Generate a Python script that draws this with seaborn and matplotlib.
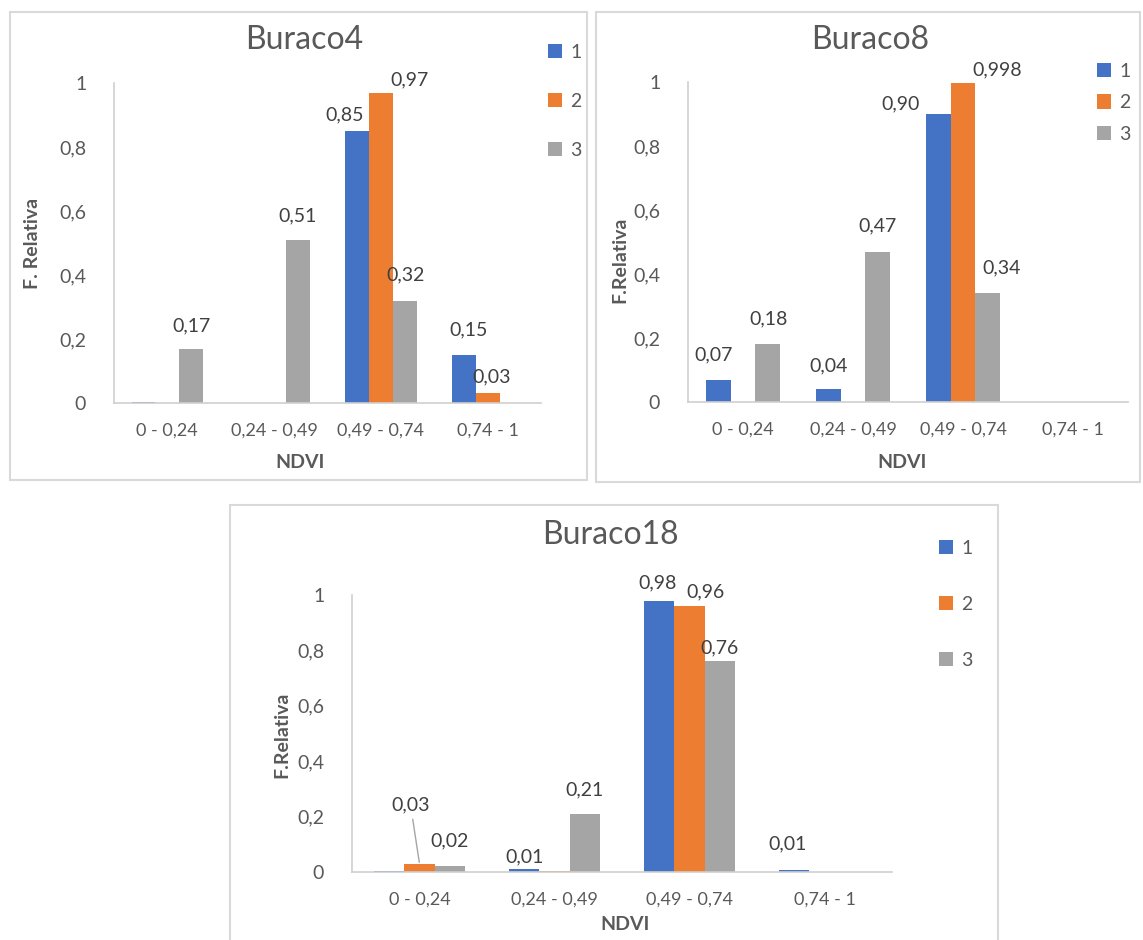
import pandas as pd
import seaborn as sns
import matplotlib.pyplot as plt
from matplotlib.patches import Rectangle

sns.set_theme(style="white")
plt.rcParams['font.family'] = ['Lato', 'DejaVu Sans']

categories = ["0 - 0,24", "0,24 - 0,49", "0,49 - 0,74", "0,74 - 1"]
series_names = ["1", "2", "3"]

buraco4_s1 = [0.003, 0.0, 0.85, 0.15]
buraco4_s2 = [0.0, 0.0, 0.97, 0.03]
buraco4_s3 = [0.17, 0.51, 0.32, 0.0]

buraco8_s1 = [0.07, 0.04, 0.90, 0.0]
buraco8_s2 = [0.0, 0.0, 0.998, 0.0]
buraco8_s3 = [0.18, 0.47, 0.34, 0.0]

buraco18_s1 = [0.003, 0.01, 0.98, 0.006]
buraco18_s2 = [0.03, 0.005, 0.96, 0.0]
buraco18_s3 = [0.02, 0.21, 0.76, 0.0]

# (series index, category index, text)
labels4 = [(2, 0, "0,17"), (2, 1, "0,51"), (0, 2, "0,85"), (1, 2, "0,97"),
           (2, 2, "0,32"), (0, 3, "0,15"), (1, 3, "0,03")]
labels8 = [(0, 0, "0,07"), (2, 0, "0,18"), (0, 1, "0,04"), (2, 1, "0,47"),
           (0, 2, "0,90"), (1, 2, "0,998"), (2, 2, "0,34")]
labels18 = [(1, 0, "0,03"), (2, 0, "0,02"), (0, 1, "0,01"), (2, 1, "0,21"),
            (0, 2, "0,98"), (1, 2, "0,96"), (2, 2, "0,76"), (0, 3, "0,01")]

# label offsets in pixels (dx, dy up) from bar top
offs4 = [(0, 23), (0, 24), (-12, 16), (29, 13), (1, 26), (5, 25), (4, 17)]
offs8 = [(-5, 25), (1, 26), (0, 23), (0, 26), (-38, 10), (34, 13), (14, 25)]
offs18 = [(-9, 59), (0, 26), (0, 12), (0, 24), (-2, 18), (16, 14), (0, 14), (-7, 26)]

palette = ["#4472C4", "#ED7D31", "#A5A5A5"]
GREY = "#595959"
W, H = 1143, 940


def make_df(s1, s2, s3):
    rows = []
    for name, vals in zip(series_names, [s1, s2, s3]):
        for c, v in zip(categories, vals):
            rows.append({"NDVI": c, "serie": name, "valor": v})
    return pd.DataFrame(rows)


def px_axes(fig, x0, y0, x1, y1):
    return fig.add_axes([x0 / W, 1 - y1 / H, (x1 - x0) / W, (y1 - y0) / H])


def draw_panel(fig, box, axbox, df, title, title_xy, ylabel, ylabel_xy,
               xlabel_xy, labels, offs, leg_xy, leg_spacing, leader=None):
    bx0, by0, bx1, by1 = box
    fig.patches.append(Rectangle((bx0 / W, 1 - by1 / H), (bx1 - bx0) / W, (by1 - by0) / H,
                                 transform=fig.transFigure, fill=False,
                                 edgecolor="#D9D9D9", lw=1.5, zorder=0))
    ax = px_axes(fig, *axbox)
    sns.barplot(data=df, x="NDVI", y="valor", hue="serie", palette=palette,
                width=0.67, saturation=1, ax=ax, linewidth=0)
    ax.set_ylim(0, 1)
    ax.set_yticks([0, 0.2, 0.4, 0.6, 0.8, 1])
    ax.set_yticklabels(["0", "0,2", "0,4", "0,6", "0,8", "1"])
    ax.tick_params(axis="y", length=0, pad=20, labelsize=14, labelcolor=GREY)
    ax.tick_params(axis="x", length=0, pad=14, labelsize=13, labelcolor=GREY)
    ax.set_xlabel("")
    ax.set_ylabel("")
    for side in ["top", "right"]:
        ax.spines[side].set_visible(False)
    for side in ["left", "bottom"]:
        ax.spines[side].set_color("#CFCFCF")
        ax.spines[side].set_linewidth(1.2)
    for (si, ci, txt), (dx, dy) in zip(labels, offs):
        p = ax.containers[si][ci]
        xc = p.get_x() + p.get_width() / 2
        yt = p.get_height()
        kw = {}
        if leader is not None and (si, ci) == leader:
            kw["arrowprops"] = dict(arrowstyle="-", color="#A5A5A5", lw=1,
                                    shrinkA=2, shrinkB=1)
        ax.annotate(txt, xy=(xc, yt), xytext=(dx, dy), textcoords="offset pixels",
                    ha="center", va="center", fontsize=14, color="#404040", **kw)
    sns.move_legend(ax, "upper left", bbox_to_anchor=(leg_xy[0] / W, 1 - leg_xy[1] / H),
                    bbox_transform=fig.transFigure, frameon=False, title=None,
                    labelspacing=leg_spacing, handlelength=0.75, handleheight=0.75,
                    handletextpad=0.4, borderpad=0, fontsize=14, labelcolor=GREY)
    fig.text(title_xy[0] / W, 1 - title_xy[1] / H, title, ha="center", va="center",
             fontsize=23, color=GREY)
    fig.text(ylabel_xy[0] / W, 1 - ylabel_xy[1] / H, ylabel, ha="center", va="center",
             rotation=90, fontsize=14, fontweight="bold", color=GREY)
    fig.text(xlabel_xy[0] / W, 1 - xlabel_xy[1] / H, "NDVI", ha="center", va="center",
             fontsize=14, fontweight="bold", color=GREY)
    return ax


fig = plt.figure(figsize=(W / 100, H / 100), dpi=100)

draw_panel(fig, (10, 12, 587, 480), (114, 83, 541, 403),
           make_df(buraco4_s1, buraco4_s2, buraco4_s3), "Buraco4", (304, 40),
           "F. Relativa", (33, 243), (300, 463), labels4, offs4, (538, 34), 1.65)

draw_panel(fig, (596, 12, 1140, 482), (688, 82, 1128, 402),
           make_df(buraco8_s1, buraco8_s2, buraco8_s3), "Buraco8", (870, 40),
           "F.Relativa", (620, 260), (902, 463), labels8, offs8, (1087, 53), 0.75)

draw_panel(fig, (230, 505, 998, 945), (352, 595, 892, 872),
           make_df(buraco18_s1, buraco18_s2, buraco18_s3), "Buraco18", (610, 535),
           "F.Relativa", (282, 735), (625, 925), labels18, offs18, (929, 530), 2.0,
           leader=(1, 0))

plt.savefig("out.png", dpi=100)
